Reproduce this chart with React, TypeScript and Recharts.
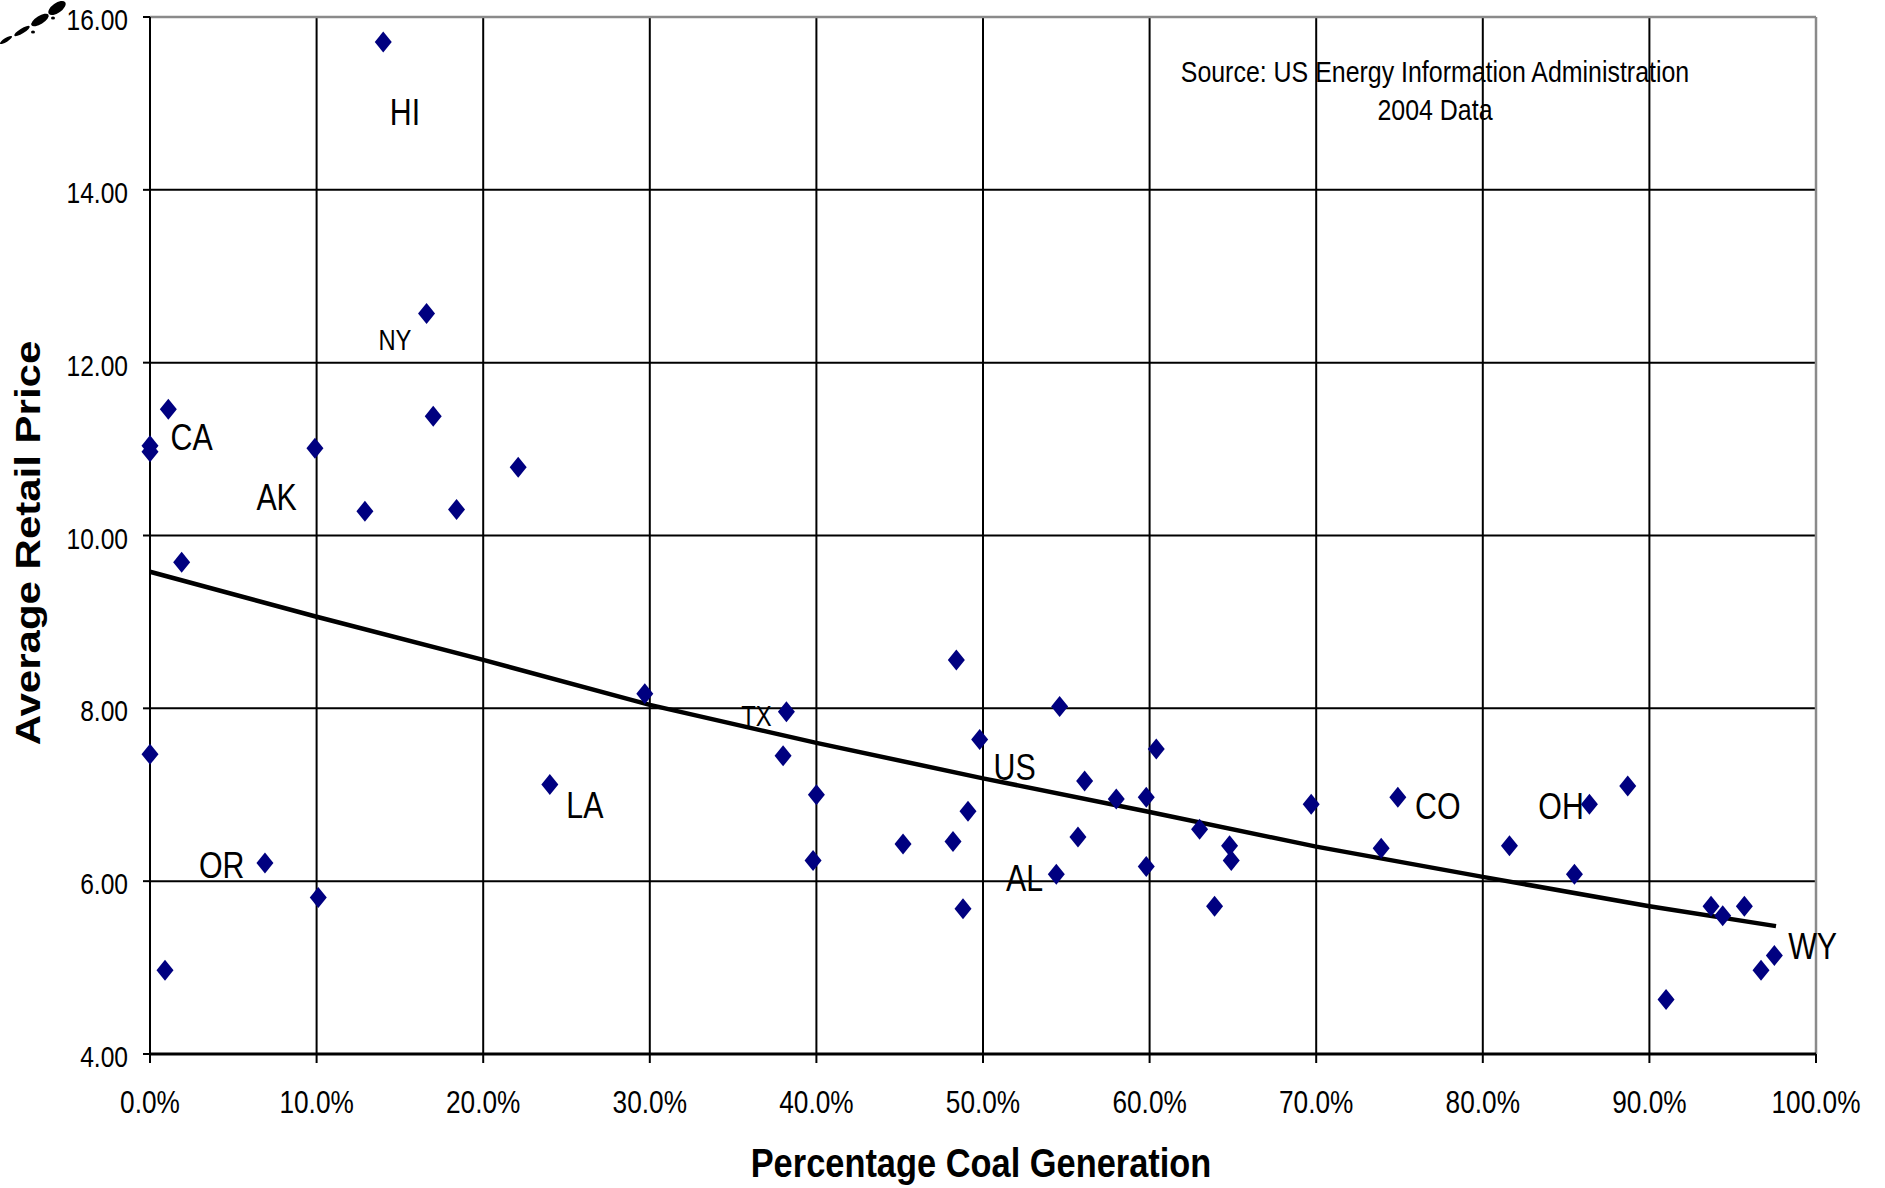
import React from "react";
import {
  CartesianGrid,
  ReferenceLine,
  Scatter,
  ScatterChart,
  XAxis,
  YAxis,
} from "recharts";

// percentage of generation from coal, by state (plus DC and US)
const coalPct = [
  14.0, 16.6, 1.1, 17.0, 0.0, 0.0, 9.9, 22.1, 12.9, 18.4, 1.9, 29.7, 0.0,
  24.0, 38.2, 38.0, 40.0, 39.8, 45.2, 48.2, 48.4, 49.1, 48.8, 49.8, 54.6,
  54.4, 55.7, 56.1, 58.0, 59.8, 59.8, 60.4, 63.0, 63.9, 64.8, 64.9, 69.7,
  73.9, 74.9, 81.6, 85.5, 86.4, 88.7, 91.0, 93.7, 94.4, 95.7, 96.7, 97.5,
  0.9, 6.9, 10.1,
];

// average retail price (cents/kWh)
const retailPrice = [
  15.71, 12.57, 11.46, 11.38, 11.04, 10.97, 11.01, 10.79, 10.28, 10.3, 9.69,
  8.17, 7.47, 7.12, 7.96, 7.45, 7.0, 6.24, 6.43, 6.46, 8.56, 6.81, 5.68, 7.64,
  8.02, 6.08, 6.51, 7.16, 6.95, 6.97, 6.17, 7.53, 6.6, 5.71, 6.41, 6.24, 6.89,
  6.38, 6.97, 6.41, 6.08, 6.89, 7.1, 4.63, 5.71, 5.6, 5.71, 4.97, 5.14, 4.97,
  6.21, 5.81,
];

// trend line as drawn
const trendX = [0, 10, 20, 30, 40, 50, 60, 70, 80, 90, 97.6];
const trendY = [9.58, 9.06, 8.56, 8.04, 7.6, 7.19, 6.8, 6.4, 6.05, 5.71, 5.48];

// state labels (placed in data units)
const labelText = ["HI", "NY", "CA", "AK", "OR", "LA", "TX", "US", "AL", "CO", "OH", "WY"];
const labelX = [15.3, 14.7, 2.5, 7.6, 4.3, 26.1, 36.4, 51.9, 52.5, 77.3, 84.7, 99.8];
const labelY = [14.9, 12.27, 11.14, 10.45, 6.19, 6.88, 7.91, 7.32, 6.04, 6.87, 6.87, 5.25];

const xTicks = [0, 10, 20, 30, 40, 50, 60, 70, 80, 90, 100];
const yTicks = [4, 6, 8, 10, 12, 14, 16];

const points = coalPct.map((x, i) => ({ x, y: retailPrice[i] }));
const trend = trendX.map((x, i) => ({ x, y: trendY[i] }));
const labels = labelText.map((name, i) => ({ x: labelX[i], y: labelY[i], name }));

const FONT = "'Liberation Sans', Arial, sans-serif";
const NARROW = 0.82;
const smallLabels = ["NY", "TX"];

function Diamond({ cx, cy }: any) {
  if (cx == null || cy == null) return <g />;
  return (
    <polygon
      points={`${cx},${cy - 10.5} ${cx + 8.5},${cy} ${cx},${cy + 10.5} ${cx - 8.5},${cy}`}
      fill="#000080"
    />
  );
}

function StateLabel({ cx, cy, payload }: any) {
  if (cx == null || cy == null) return <g />;
  const size = smallLabels.includes(payload.name) ? 29 : 37;
  return (
    <text
      transform={`translate(${cx},${cy + size * 0.358}) scale(${NARROW},1)`}
      textAnchor="middle"
      fontFamily={FONT}
      fontSize={size}
      fill="#000"
    >
      {payload.name}
    </text>
  );
}

function XTick({ x, y, payload }: any) {
  return (
    <text
      transform={`translate(${x},${y + 48}) scale(${NARROW},1)`}
      textAnchor="middle"
      fontFamily={FONT}
      fontSize={32}
      fill="#000"
    >
      {`${Number(payload.value).toFixed(1)}%`}
    </text>
  );
}

function YTick({ x, y, payload }: any) {
  return (
    <text
      transform={`translate(${x - 13},${y + 13}) scale(${NARROW},1)`}
      textAnchor="end"
      fontFamily={FONT}
      fontSize={30}
      fill="#000"
    >
      {Number(payload.value).toFixed(2)}
    </text>
  );
}

export default function App() {
  return (
    <div style={{ position: "absolute", left: 0, top: 0, width: 1885, height: 1188, background: "#fff" }}>
      <ScatterChart
        width={1885}
        height={1188}
        margin={{ top: 17, right: 69, bottom: 0, left: 0 }}
      >
        <CartesianGrid stroke="#000" strokeWidth={2} />
        <XAxis
          type="number"
          dataKey="x"
          domain={[0, 100]}
          ticks={xTicks}
          height={134}
          axisLine={{ stroke: "#000", strokeWidth: 3 }}
          tickLine={{ stroke: "#000", strokeWidth: 2 }}
          tickSize={9}
          tick={<XTick />}
        />
        <YAxis
          type="number"
          dataKey="y"
          domain={[4, 16]}
          ticks={yTicks}
          width={150}
          axisLine={{ stroke: "#000", strokeWidth: 2 }}
          tickLine={{ stroke: "#000", strokeWidth: 2 }}
          tickSize={7}
          tick={<YTick />}
        />
        <ReferenceLine y={16} stroke="#8a8a8a" strokeWidth={2.5} />
        <ReferenceLine x={100} stroke="#8a8a8a" strokeWidth={2.5} />
        <Scatter
          data={trend}
          line={{ stroke: "#000", strokeWidth: 4.5 }}
          lineType="joint"
          shape={() => <g />}
          isAnimationActive={false}
        />
        <Scatter data={points} shape={<Diamond />} isAnimationActive={false} />
        <Scatter data={labels} shape={<StateLabel />} isAnimationActive={false} />
      </ScatterChart>

      <svg
        width={1885}
        height={1188}
        style={{ position: "absolute", left: 0, top: 0, pointerEvents: "none" }}
      >
        {/* scanner smudge in the corner */}
        <g fill="#000">
          <ellipse cx={6} cy={40} rx={7} ry={2} transform="rotate(-32 6 40)" />
          <ellipse cx={22} cy={31} rx={9} ry={2.5} transform="rotate(-32 22 31)" />
          <ellipse cx={40} cy={20} rx={10} ry={4} transform="rotate(-32 40 20)" />
          <ellipse cx={57} cy={8} rx={10} ry={5} transform="rotate(-35 57 8)" />
          <ellipse cx={33} cy={32} rx={2} ry={1.5} />
          <ellipse cx={53} cy={18} rx={2} ry={1.5} />
        </g>
        <text
          transform="translate(1435,82) scale(0.86,1)"
          textAnchor="middle"
          fontFamily={FONT}
          fontSize={29}
          fill="#000"
        >
          Source: US Energy Information Administration
        </text>
        <text
          transform="translate(1435,120) scale(0.86,1)"
          textAnchor="middle"
          fontFamily={FONT}
          fontSize={29}
          fill="#000"
        >
          2004 Data
        </text>
        <text
          transform="translate(981,1177) scale(0.86,1)"
          textAnchor="middle"
          fontFamily={FONT}
          fontWeight="bold"
          fontSize={40}
          fill="#000"
        >
          Percentage Coal Generation
        </text>
        <text
          transform="translate(40,543) rotate(-90) scale(1,0.83)"
          textAnchor="middle"
          fontFamily={FONT}
          fontWeight="bold"
          fontSize={42}
          fill="#000"
        >
          Average Retail Price
        </text>
      </svg>
    </div>
  );
}
